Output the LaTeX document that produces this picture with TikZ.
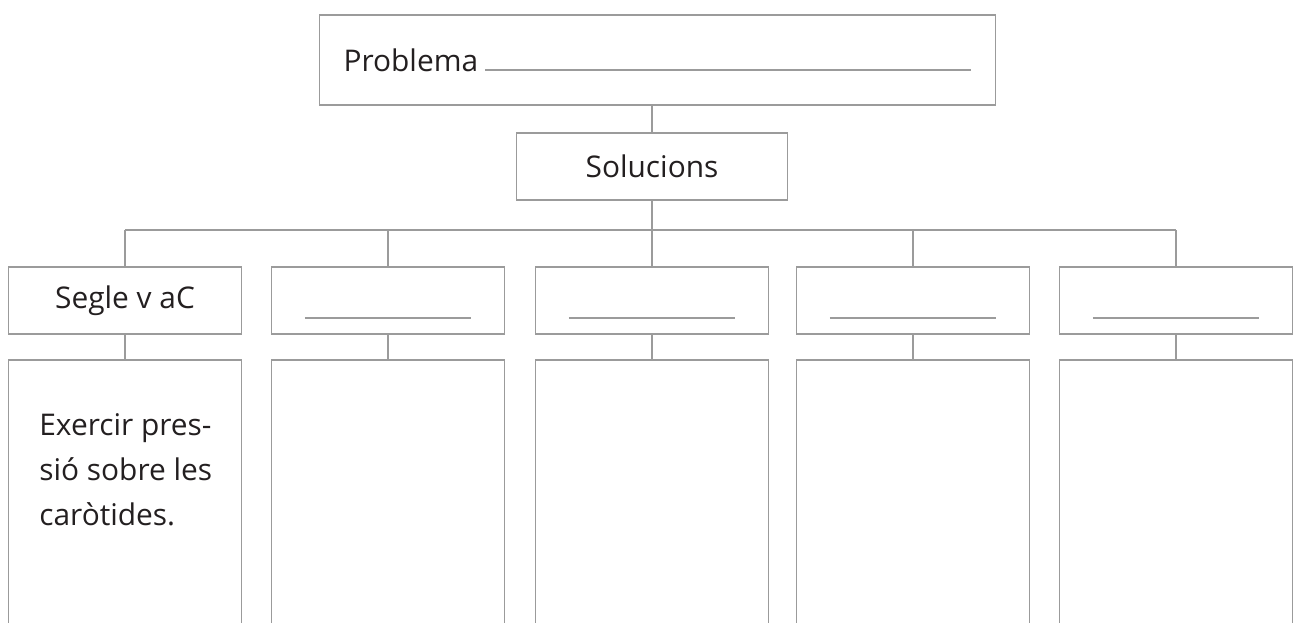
\documentclass[tikz,border=0pt]{standalone}
\usepackage{fontspec}
\setmainfont{Open Sans}
\usetikzlibrary{positioning}
\definecolor{linegray}{HTML}{9B9B9B}
\definecolor{inkgray}{HTML}{231F20}
\tikzset{
  frame/.style={draw=linegray, line width=0.85pt},
  headbox/.style={frame, minimum width=4.66cm, minimum height=1.34cm, inner sep=0pt},
  notebox/.style={frame, minimum width=4.66cm, minimum height=5.6cm, inner sep=0pt},
  wire/.style={draw=linegray, line width=0.85pt},
  blank/.style={draw=linegray, line width=1.1pt},
}

\begin{document}
\begin{tikzpicture}[x=0.02cm, y=-0.02cm, font=\fontsize{17}{25.6}\selectfont, text=inkgray]
            \useasboundingbox (0,0) rectangle (1294,622);
            \clip (0,0) rectangle (1294,622);

            \node[frame, text width=12.56cm, align=left, inner xsep=0.48cm, inner ysep=0pt, minimum height=1.8cm] (prob) at (657.5,60) {Problema\hspace{0.14cm}\textcolor{linegray}{\leaders\hrule height 0.04cm\hfill}};
            \node[frame, minimum width=5.42cm, minimum height=1.34cm, inner sep=0pt] (sol) at (652,166.5) {Solucions};
            \coordinate (bus) at (0,230);

            \node[headbox] (t1) at (125,300.5) {Segle v aC};
            \node[notebox] (d1) at (125,500) {};
            \foreach \n/\x in {2/388,3/652,4/913,5/1176} {
                \node[headbox] (t\n) at (\x,300.5) {};
                \node[notebox] (d\n) at (\x,500) {};
                \draw[blank] ([xshift=0.68cm, yshift=0.34cm]t\n.south west) -- ([xshift=-0.68cm, yshift=0.34cm]t\n.south east);
            }
            \node[anchor=north west, inner sep=0pt, align=left] (d1txt) at (39,413) {Exercir pres-\\sió sobre les\\caròtides.};

            \draw[wire] (sol.north |- prob.south) -- (sol.north);
            \draw[wire] (sol.south) -- (sol.south |- bus);
            \draw[wire] (t1.north |- bus) -- (t5.north |- bus);
            \foreach \n in {1,...,5} {
                \draw[wire] (t\n.north |- bus) -- (t\n.north);
                \draw[wire] (t\n.south) -- (d\n.north);
            }

        \end{tikzpicture}
\end{document}
